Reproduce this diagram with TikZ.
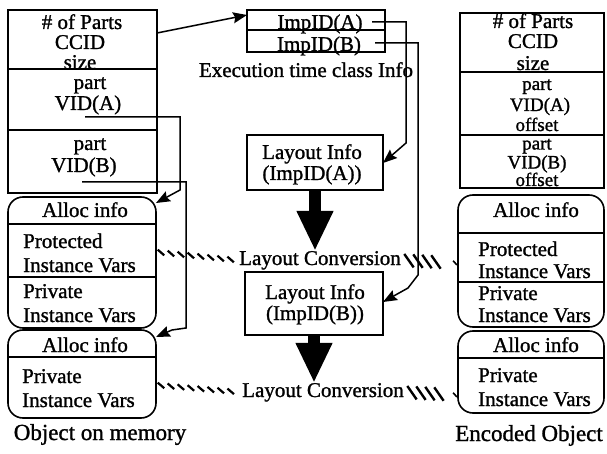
\documentclass[tikz,border=0pt]{standalone}
\usepackage{fontspec}
\setmainfont[FakeBold=1.2]{Liberation Serif}
\usetikzlibrary{arrows.meta,decorations.markings}
\begin{document}
\begin{tikzpicture}[x=1pt,y=-1pt,
  box/.style={draw, line width=1.6pt, inner sep=0pt, outer sep=0pt, anchor=north west},
  rbox/.style={box, rounded corners=15pt},
  sepline/.style={line width=1.6pt},
  txt/.style={inner sep=0pt, anchor=base, font=\fontsize{21}{24}\selectfont},
  stxt/.style={inner sep=0pt, anchor=base, font=\fontsize{19}{21}\selectfont},
  ltxt/.style={txt, anchor=base west},
  captxt/.style={inner sep=0pt, anchor=base, font=\fontsize{23}{26}\selectfont},
  conn/.style={line width=1.5pt, -{Stealth[length=14pt,width=11pt,inset=2pt]}},
  bigarrow/.style={line width=12pt, -{Triangle[length=40pt,width=34pt]}},
  hatchL/.style={postaction={decorate}, decoration={markings,
    mark=between positions 5pt and -4pt step 10pt with {\draw[line width=2.2pt] (-3.5pt,2.5pt) -- (3.5pt,-2.5pt);}}},
  hatchR/.style={postaction={decorate}, decoration={markings,
    mark=between positions 8pt and -14pt step 9pt with {\draw[line width=2.4pt] (-5pt,6.5pt) -- (5pt,-6.5pt);},
    mark=at position -3pt with {\draw[line width=1.6pt] (-2pt,2pt) -- (2pt,-2pt);}}}
]
\useasboundingbox (0,0) rectangle (607,454);

% ---------- left column: object on memory ----------
\node[box, minimum width=149pt, minimum height=59pt] (LTop) at (8,10) {};
\node[box, minimum width=149pt, minimum height=61pt] (LPA) at (8,69) {};
\node[box, minimum width=149pt, minimum height=63pt] (LPB) at (8,130) {};
\node[rbox, minimum width=148pt, minimum height=131pt] (LB1) at (8,197) {};
\node[rbox, minimum width=148pt, minimum height=88pt] (LB2) at (8,330) {};
\draw[sepline] (LB1.west |- 0,224) -- (LB1.east |- 0,224);
\draw[sepline] (LB1.west |- 0,277) -- (LB1.east |- 0,277);
\draw[sepline] (LB2.west |- 0,357) -- (LB2.east |- 0,357);

\node[txt] (l1) at (82,29) {\# of Parts};
\node[txt] (l2) at (80,49) {CCID};
\node[txt] (l3) at (80,69) {size};
\node[txt] (l4) at (90,89) {part};
\node[txt] (l5) at (88,110) {VID(A)};
\node[txt] (l6) at (90,150) {part};
\node[txt] (l7) at (84,172) {VID(B)};
\node[txt] (l8) at (85,217) {Alloc info};
\node[ltxt] (l9) at (23,248) {Protected};
\node[ltxt] (l10) at (23,272) {Instance Vars};
\node[ltxt] (l11) at (23,298) {Private};
\node[ltxt] (l12) at (23,322) {Instance Vars};
\node[txt] (l13) at (85,352) {Alloc info};
\node[ltxt] (l14) at (22,383) {Private};
\node[ltxt] (l15) at (22,407) {Instance Vars};
\node[captxt] (capL) at (100,440) {Object on memory};

% ---------- right column: encoded object ----------
\node[box, minimum width=144pt, minimum height=59pt] (RTop) at (460,13) {};
\node[box, minimum width=144pt, minimum height=63pt] (RPA) at (460,72) {};
\node[box, minimum width=144pt, minimum height=53pt] (RPB) at (460,135) {};
\node[rbox, minimum width=146pt, minimum height=132pt] (RB1) at (458,195) {};
\node[rbox, minimum width=146pt, minimum height=82pt] (RB2) at (458,331) {};
\draw[sepline] (RB1.west |- 0,233) -- (RB1.east |- 0,233);
\draw[sepline] (RB1.west |- 0,282) -- (RB1.east |- 0,282);
\draw[sepline] (RB2.west |- 0,358) -- (RB2.east |- 0,358);

\node[txt] (r1) at (533,28) {\# of Parts};
\node[txt] (r2) at (533,48) {CCID};
\node[txt] (r3) at (533,70) {size};
\node[stxt] (r4) at (537,90) {part};
\node[stxt] (r5) at (540,111) {VID(A)};
\node[stxt] (r6) at (537,131) {offset};
\node[stxt] (r7) at (537,149.5) {part};
\node[stxt] (r8) at (537,168.5) {VID(B)};
\node[stxt] (r9) at (537,186) {offset};
\node[txt] (r10) at (536,217) {Alloc info};
\node[ltxt] (r11) at (478,256) {Protected};
\node[ltxt] (r12) at (478,278) {Instance Vars};
\node[ltxt] (r13) at (478,300) {Private};
\node[ltxt] (r14) at (478,322) {Instance Vars};
\node[txt] (r15) at (536,352) {Alloc info};
\node[ltxt] (r16) at (478,382) {Private};
\node[ltxt] (r17) at (478,406) {Instance Vars};
\node[captxt] (capR) at (529,441) {Encoded Object};

% ---------- middle ----------
\node[box, minimum width=138pt, minimum height=42pt] (Imp) at (247,10) {};
\draw[sepline] (Imp.west |- 0,30) -- (Imp.east |- 0,30);
\node[txt] (ia) at (320,29) {ImpID(A)};
\node[txt] (ib) at (319,51) {ImpID(B)};
\node[txt] (exe) at (306,77) {Execution time class Info};

\node[box, minimum width=136pt, minimum height=55pt] (LA) at (247,135) {};
\node[txt] (la1) at (312,159) {Layout Info};
\node[txt] (la2) at (312,180) {(ImpID(A))};
\node[box, minimum width=138pt, minimum height=63pt] (LB) at (245,272) {};
\node[txt] (lb1) at (315,299) {Layout Info};
\node[txt] (lb2) at (315,320) {(ImpID(B))};

\node[txt] (conv1) at (320,265) {Layout Conversion};
\node[txt] (conv2) at (323,397) {Layout Conversion};

% big arrows
\draw[bigarrow] (LA.south) -- (LA.south |- conv1.north);
\draw[bigarrow] (LB.south) -- (LB.south |- conv2.north);

% connectors
\draw[conn] ([yshift=-23pt]LTop.north east) -- ([yshift=-5pt]Imp.north west);
\coordinate (ea) at (372,22);
\coordinate (eb) at (375,43);
\draw[conn] (ea) -- (406,22) -- (406,143) -- ([yshift=-28pt]LA.north east);
\draw[conn] (eb) -- (418,43) -- (418,275) -- (408,288) -- ([yshift=-30pt]LB.north east);

\coordinate (va) at (85,117);
\coordinate (vb) at (82,182);
\draw[conn] (va) -- (180,117) -- (180,190) -- ([yshift=-6pt]LB1.north east);
\draw[conn] (vb) -- (186,182) -- (186,328) -- (172,330) -- ([yshift=-7pt]LB2.north east);

% layout conversion hatches
\path[hatchL] ([yshift=-55pt]LB1.north east) -- (conv1.west);
\path[hatchL] ([yshift=-55pt]LB2.north east) -- (conv2.west);
\path[hatchR] (conv1.east) -- ([yshift=-68pt]RB1.north west);
\path[hatchR] (conv2.east) -- ([yshift=-64pt]RB2.north west);
\end{tikzpicture}
\end{document}
